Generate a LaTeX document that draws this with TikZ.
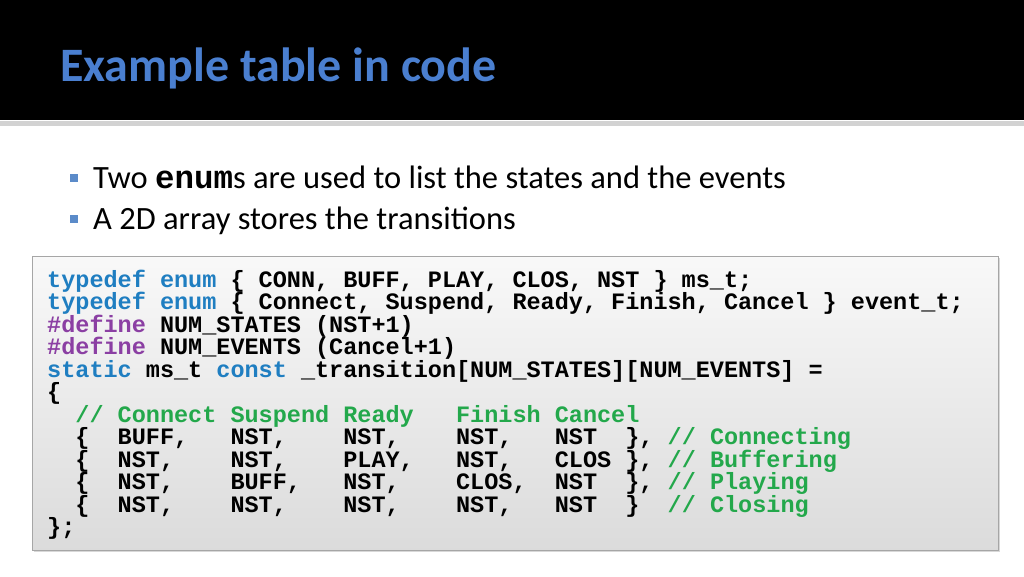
\documentclass[tikz,border=0pt]{standalone}
\usepackage{fontspec}
\setmainfont{Carlito}
\setmonofont{Liberation Mono}
\usetikzlibrary{shadows}
\definecolor{ttl}{HTML}{4A7FD0}
\definecolor{kw}{HTML}{1F7EC1}
\definecolor{pp}{HTML}{8B3FA3}
\definecolor{cm}{HTML}{23A84B}
\definecolor{bul}{HTML}{5B8BC9}
\newcommand{\K}[1]{\textcolor{kw}{#1}}
\newcommand{\Pp}[1]{\textcolor{pp}{#1}}
\newcommand{\C}[1]{\textcolor{cm}{#1}}
\newcommand{\LB}{\char`\{}
\newcommand{\RB}{\char`\}}
\begin{document}
\begin{tikzpicture}[x=1pt,y=-1pt,
  code/.style={anchor=base west,inner sep=0pt,font=\ttfamily\bfseries\fontsize{23.5}{23.5}\selectfont},
  bullet/.style={fill=bul,minimum size=8pt,inner sep=0pt},
  btext/.style={anchor=base west,inner sep=0pt,font=\fontsize{32.5}{32.5}\selectfont}]
\useasboundingbox (0,0) rectangle (1024,576);
\fill[white] (0,0) rectangle (1024,576);
\fill[black] (0,0) rectangle (1024,120);
\fill[gray!35] (0,121) rectangle (1024,126);
\node[anchor=base west,inner sep=0pt,text=ttl,font=\fontsize{48}{48}\selectfont\bfseries] (title) at (60,81) {Example table in code};
\node[bullet] (b1) at (74,178) {};
\node[btext] (t1) at (93,188) {Two {\ttfamily\bfseries enum}s are used to list the states and the events};
\node[bullet] (b2) at (74,219) {};
\node[btext] (t2) at (93,229) {A 2D array stores the transitions};
\shade[top color=gray!5,bottom color=gray!28,draw=gray!70,drop shadow={opacity=0.3,shadow xshift=2pt,shadow yshift=-2pt}] (32,256) rectangle (998,550);
\node[code] (l1) at (47,287) {\K{typedef}~\K{enum}~\LB~CONN,~BUFF,~PLAY,~CLOS,~NST~\RB~ms\_t;};
\node[code] (l2) at (47,309.5) {\K{typedef}~\K{enum}~\LB~Connect,~Suspend,~Ready,~Finish,~Cancel~\RB~event\_t;};
\node[code] (l3) at (47,332) {\Pp{\#define}~NUM\_STATES~(NST+1)};
\node[code] (l4) at (47,354.5) {\Pp{\#define}~NUM\_EVENTS~(Cancel+1)};
\node[code] (l5) at (47,377) {\K{static}~ms\_t~\K{const}~\_transition[NUM\_STATES][NUM\_EVENTS]~=};
\node[code] (l6) at (47,399.5) {\LB};
\node[code] (l7) at (47,422) {~~\C{//~Connect~Suspend~Ready~~~Finish~Cancel}};
\node[code] (l8) at (47,444.5) {~~\LB~~BUFF,~~~NST,~~~~NST,~~~~NST,~~~NST~~\RB,~\C{//~Connecting}};
\node[code] (l9) at (47,467) {~~\LB~~NST,~~~~NST,~~~~PLAY,~~~NST,~~~CLOS~\RB,~\C{//~Buffering}};
\node[code] (l10) at (47,489.5) {~~\LB~~NST,~~~~BUFF,~~~NST,~~~~CLOS,~~NST~~\RB,~\C{//~Playing}};
\node[code] (l11) at (47,512) {~~\LB~~NST,~~~~NST,~~~~NST,~~~~NST,~~~NST~~\RB~~\C{//~Closing}};
\node[code] (l12) at (47,534.5) {\RB;};
\end{tikzpicture}
\end{document}
